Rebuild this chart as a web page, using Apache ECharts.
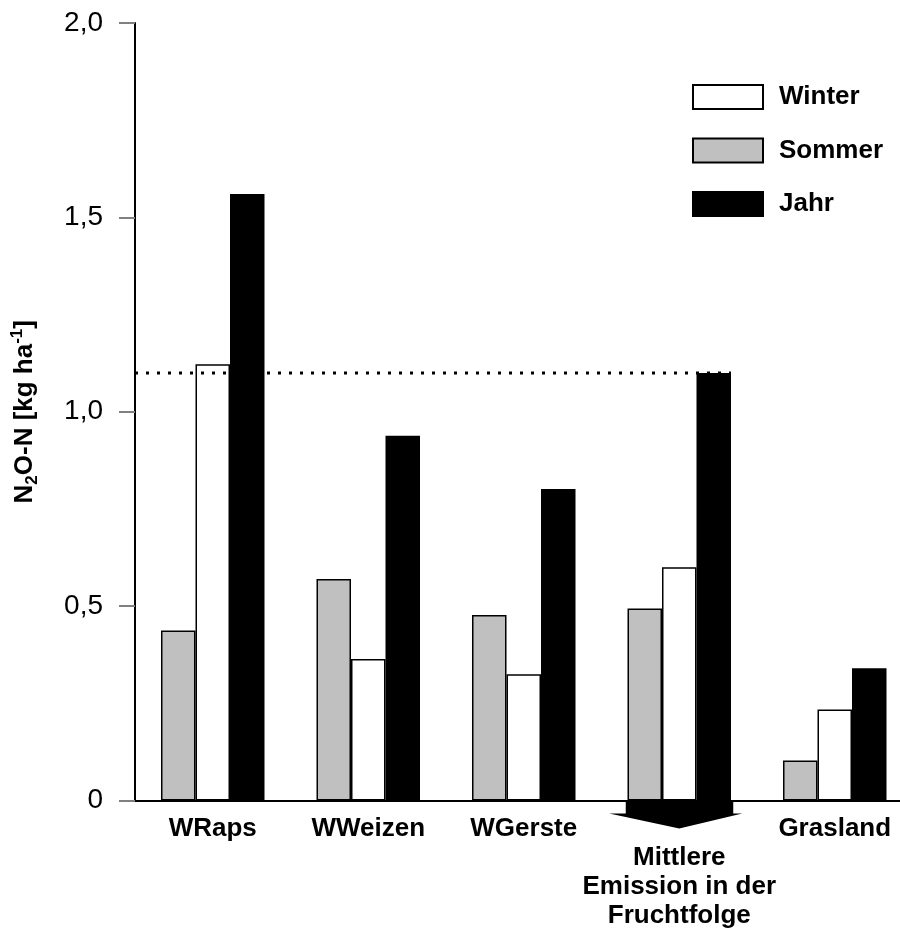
<!DOCTYPE html>
<html><head><meta charset="utf-8">
<script src="https://cdn.jsdelivr.net/npm/echarts@6/dist/echarts.min.js"></script>
<style>html,body{margin:0;padding:0;background:#fff}#c{width:900px;height:930px}</style>
</head><body><div id="c"></div>
<script>
// ---- data ----
const categories = ['WRaps', 'WWeizen', 'WGerste', '\nMittlere\nEmission in der\nFruchtfolge', 'Grasland'];
const sommer = [0.437, 0.570, 0.477, 0.494, 0.103];
const winter = [1.122, 0.364, 0.325, 0.600, 0.234];
const jahr   = [1.560, 0.938, 0.801, 1.100, 0.340];
const yMin = 0, yMax = 2, yStep = 0.5;
const meanIndex = 3;              // "Mittlere Emission in der Fruchtfolge"
const meanLevel = jahr[meanIndex]; // dotted reference level

// ---- layout / style ----
const FONT = 'Liberation Sans, Arial, sans-serif';
const BAR_W = 34.5;
const CAT_W = 155.5;
const lineEnd = meanIndex + 1.5 * BAR_W / CAT_W;

const chart = echarts.init(document.getElementById('c'), null, {renderer: 'canvas'});
const border = {borderColor: '#000', borderWidth: 1.5};

chart.setOption({
  animation: false,
  backgroundColor: '#fff',
  textStyle: {fontFamily: FONT},
  grid: {left: 135, right: -12.5, top: 23, bottom: 129.5, containLabel: false, outerBoundsMode: 'none'},
  legend: {
    data: ['Winter', 'Sommer', 'Jahr'],
    orient: 'vertical', left: 692, top: 84, padding: 0,
    itemWidth: 70, itemHeight: 24, itemGap: 27.5,
    icon: 'rect', selectedMode: false,
    textStyle: {fontFamily: FONT, fontSize: 26, fontWeight: 'bold', color: '#000', padding: [0, 0, 0, 11]}
  },
  xAxis: [{
    type: 'category', data: categories,
    axisLine: {onZero: false, lineStyle: {color: '#000', width: 2}},
    axisTick: {show: false},
    axisLabel: {fontFamily: FONT, fontSize: 26, fontWeight: 'bold', color: '#000', lineHeight: 29, margin: 14, interval: 0}
  }, {
    type: 'value', min: -0.5, max: categories.length - 0.5, show: false
  }],
  yAxis: {
    type: 'value', min: yMin, max: yMax, interval: yStep,
    axisLine: {show: true, onZero: false, lineStyle: {color: '#000', width: 2}},
    axisTick: {show: true, length: 16, lineStyle: {color: '#808080', width: 2}},
    splitLine: {show: false},
    axisLabel: {
      fontFamily: FONT, fontSize: 28, color: '#000', margin: 32,
      formatter: v => v === 0 ? '0' : v.toFixed(1).replace('.', ',')
    },
    name: '{b|N}{sub|2}{b|O-N [kg ha}{sup|-1}{b|]}',
    nameLocation: 'middle', nameGap: 94, nameRotate: 90,
    nameTextStyle: {
      rich: {
        b: {fontFamily: FONT, fontSize: 26, fontWeight: 'bold', color: '#000', lineHeight: 32},
        sub: {fontFamily: FONT, fontSize: 17, fontWeight: 'bold', color: '#000', lineHeight: 16, verticalAlign: 'bottom'},
        sup: {fontFamily: FONT, fontSize: 17, fontWeight: 'bold', color: '#000', lineHeight: 16, verticalAlign: 'top'}
      }
    }
  },
  series: [
    {name: 'Sommer', type: 'bar', data: sommer, barWidth: BAR_W, barGap: '0%',
     itemStyle: Object.assign({color: '#c0c0c0'}, border)},
    {name: 'Winter', type: 'bar', data: winter, barWidth: BAR_W, barGap: '0%',
     itemStyle: Object.assign({color: '#ffffff'}, border)},
    {name: 'Jahr', type: 'bar', data: jahr, barWidth: BAR_W, barGap: '0%',
     itemStyle: Object.assign({color: '#000000'}, border)},
    {name: 'mean', type: 'line', xAxisIndex: 1, z: 5, silent: true,
     data: [[-0.5, meanLevel], [lineEnd, meanLevel]],
     symbol: 'none',
     lineStyle: {color: '#000', width: 3, type: [3, 8]}}
  ]
});

// arrow below the "Mittlere" group
const cx = chart.convertToPixel({xAxisIndex: 0}, categories[meanIndex]);
const y0 = chart.convertToPixel({yAxisIndex: 0}, 0);
chart.setOption({
  graphic: [{
    type: 'polygon', z: 100,
    shape: {points: [
      [cx - 53.5, y0], [cx + 54, y0], [cx + 54, y0 + 13], [cx + 63, y0 + 13],
      [cx, y0 + 28], [cx - 70, y0 + 13], [cx - 53.5, y0 + 13]
    ]},
    style: {fill: '#000'}
  }]
});
</script>
</body></html>
